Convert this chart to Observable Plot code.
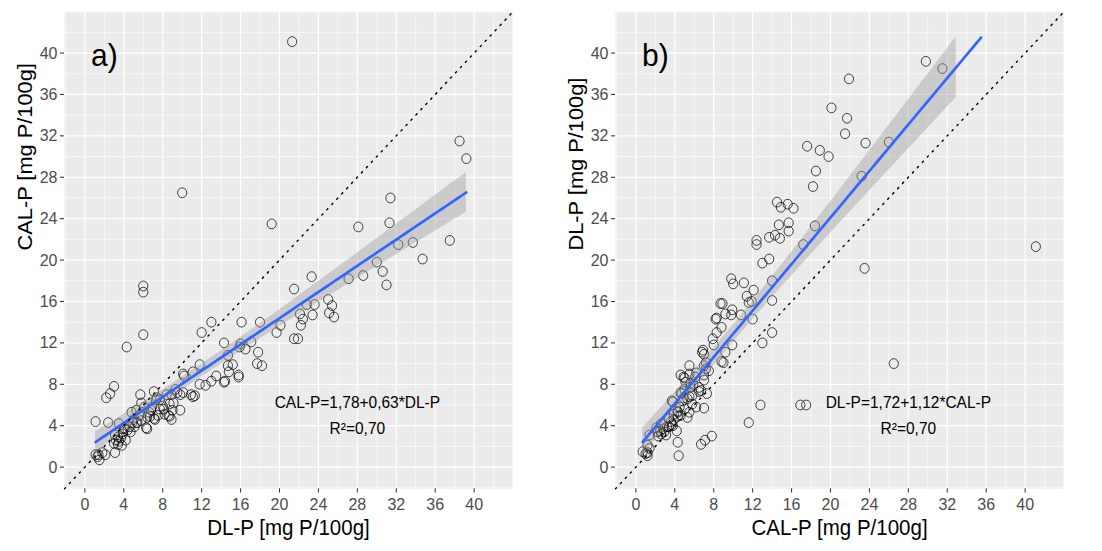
<!DOCTYPE html>
<html><head><meta charset="utf-8">
<script src="https://cdn.jsdelivr.net/npm/d3@7"></script>
<script src="https://cdn.jsdelivr.net/npm/@observablehq/plot@0.6"></script>
<style>
html,body{margin:0;padding:0;background:#fff;}
#wrap{display:flex;width:1102px;height:551px;overflow:hidden;}
#wrap svg{display:block;flex:none;}
</style></head><body><div id="wrap"></div>
<script>
// DL-P and CAL-P values per sample (mg P/100g), paired by index
const dlP = [21.3,10.0,19.2,38.5,39.2,31.4,28.1,31.3,32.2,33.7,37.5,34.7,30.0,30.6,28.6,31.0,27.1,23.3,21.5,25.6,
  25.4,25.1,25.0,23.4,23.6,22.8,22.4,22.2,22.1,21.9,21.5,20.1,19.7,18.2,18.0,17.7,17.8,17.1,16.5,16.1,
  15.9,16.0,15.8,15.8,15.2,14.8,14.7,14.7,14.3,14.3,14.4,13.5,13.0,13.0,12.0,12.4,11.8,11.8,11.1,11.1,
  11.3,10.2,10.1,10.1,9.8,9.1,8.9,8.7,8.4,8.1,8.7,8.9,8.6,10.9,9.3,9.0,8.2,7.2,7.7,7.4,
  7.1,6.3,6.6,6.8,6.1,5.8,5.7,5.3,5.0,5.6,4.8,5.3,3.9,4.0,3.5,3.5,3.4,3.4,3.1,2.4,
  2.2,2.6,3.0,1.1,1.5,1.4,1.8,1.1,2.1,3.1,4.3,6.0,6.0,6.0,3.2,3.7,3.9,4.4,4.6,3.0,
  5.4,5.8,6.4,6.4,7.1,7.5,7.7,6.9,4.9,4.1,5.1,4.7,6.7,7.3,8.0,9.5,3.8,4.2,1.3,9.8];
const calP = [41.1,26.5,23.5,31.5,29.8,26.0,23.2,23.6,21.5,21.7,21.9,20.1,19.8,18.9,18.5,17.6,18.2,18.4,17.2,14.5,
  15.6,14.9,16.2,14.7,15.7,15.7,14.3,13.7,14.8,12.4,12.4,13.7,13.0,9.8,14.0,10.0,11.1,12.1,11.4,14.0,
  11.6,11.9,8.7,8.9,9.9,9.2,9.8,10.8,12.0,8.2,8.3,8.8,14.0,8.3,13.0,7.9,8.0,9.9,9.2,6.8,
  6.9,8.8,9.0,7.2,5.5,6.2,7.0,6.1,7.0,5.6,4.9,4.6,5.0,7.0,7.5,5.5,5.1,4.6,6.5,6.7,
  7.3,3.8,5.3,5.5,5.8,6.2,7.0,4.3,4.6,5.0,5.3,5.5,3.4,3.8,4.2,2.5,2.2,2.9,3.1,4.3,
  6.7,7.1,7.8,4.4,0.7,1.2,1.4,1.2,1.2,1.4,11.6,12.8,16.9,17.5,2.6,2.8,3.2,3.6,3.9,2.3,
  4.3,4.5,3.7,4.8,4.7,5.0,5.6,5.8,4.3,3.7,3.9,3.4,4.9,6.5,5.9,7.2,2.1,2.6,1.0,7.0];

const axisLimits = [0, 41.85];
const majorTicks = [0, 4, 8, 12, 16, 20, 24, 28, 32, 36, 40];
const minorTicks = [-2, 2, 6, 10, 14, 18, 22, 26, 30, 34, 38, 42];
const panelTags = ["a)", "b)"];
const xTitles = ["DL-P [mg P/100g]", "CAL-P [mg P/100g]"];
const yTitles = ["CAL-P [mg P/100g]", "DL-P [mg P/100g]"];
const equations = ["CAL-P=1,78+0,63*DL-P", "DL-P=1,72+1,12*CAL-P"];
const r2Labels = ["R²=0,70", "R²=0,70"];
const tagPos = [2, 39.7];
const eqPos = [28, 6.2];
const r2Pos = [28, 3.7];

const rows = dlP.map((d, i) => ({dl: d, cal: calP[i]}));

function tQuantile975(df) {
  const z = 1.959964;
  return z + (z**3 + z) / (4*df) + (5*z**5 + 16*z**3 + 3*z) / (96*df*df)
    + (3*z**7 + 19*z**5 + 17*z**3 - 15*z) / (384*df**3);
}
function smooth(data, xk, yk) {
  const n = data.length;
  const xm = d3.mean(data, d => d[xk]), ym = d3.mean(data, d => d[yk]);
  let sxx = 0, sxy = 0;
  for (const d of data) { sxx += (d[xk]-xm)**2; sxy += (d[xk]-xm)*(d[yk]-ym); }
  const b = sxy / sxx, a = ym - b*xm;
  let sse = 0;
  for (const d of data) sse += (d[yk] - a - b*d[xk])**2;
  const s = Math.sqrt(sse / (n-2)), t = tQuantile975(n-2);
  const [x0, x1] = d3.extent(data, d => d[xk]);
  return d3.range(80).map(i => {
    const x = x0 + (x1-x0)*i/79, y = a + b*x;
    const se = s*Math.sqrt(1/n + (x-xm)**2/sxx);
    return {x, y, lo: y - t*se, hi: y + t*se};
  });
}

const W = 551, H0 = 518, H = 551;
function panel(k) {
  const xk = k === 0 ? "dl" : "cal", yk = k === 0 ? "cal" : "dl";
  const pad = 0.05*(axisLimits[1]-axisLimits[0]);
  const dom = [axisLimits[0]-pad, axisLimits[1]+pad];
  const fit = smooth(rows, xk, yk);
  const inLim = v => v >= axisLimits[0] && v <= axisLimits[1];
  const lineFit = fit.filter(p => inLim(p.y));
  const bandFit = fit.filter(p => inLim(p.lo) && inLim(p.hi));
  const svg = Plot.plot({
    width: W, height: H0,
    marginLeft: 64, marginRight: 39, marginTop: 11, marginBottom: 59,
    style: {fontFamily: "'Liberation Sans', Arial, sans-serif", background: "white", overflow: "visible"},
    x: {domain: dom, label: null},
    y: {domain: dom, label: null},
    marks: [
      Plot.frame({fill: "#EBEBEB", stroke: null}),
      Plot.gridX(minorTicks, {stroke: "white", strokeOpacity: 1, strokeWidth: 0.6}),
      Plot.gridY(minorTicks, {stroke: "white", strokeOpacity: 1, strokeWidth: 0.6}),
      Plot.gridX(majorTicks, {stroke: "white", strokeOpacity: 1, strokeWidth: 1.2}),
      Plot.gridY(majorTicks, {stroke: "white", strokeOpacity: 1, strokeWidth: 1.2}),
      Plot.axisX(majorTicks, {tickSize: 4, tickPadding: 5, fontSize: 16, stroke: "#333333", fill: "#4D4D4D", label: null}),
      Plot.axisY(majorTicks, {tickSize: 4, tickPadding: 3, fontSize: 16, stroke: "#333333", fill: "#4D4D4D", label: null}),
      Plot.dot(rows, {x: xk, y: yk, r: 4.6, stroke: "black", strokeWidth: 0.7, fill: "none"}),
      Plot.areaY(bandFit, {x: "x", y1: "lo", y2: "hi", fill: "#999999", fillOpacity: 0.4}),
      Plot.line(lineFit, {x: "x", y: "y", stroke: "#3366FF", strokeWidth: 2.6}),
      Plot.line(dom, {x: d => d, y: d => d, stroke: "black", strokeWidth: 1.4, strokeDasharray: "1.4,5.6"}),
      Plot.text([{x: tagPos[0], y: tagPos[1], t: panelTags[k]}], {x: "x", y: "y", text: "t", fontSize: 30, fill: "black"}),
      Plot.text([{x: eqPos[0], y: eqPos[1], t: equations[k]}], {x: "x", y: "y", text: "t", fontSize: 15.5, fill: "black"}),
      Plot.text([{x: r2Pos[0], y: r2Pos[1], t: r2Labels[k]}], {x: "x", y: "y", text: "t", fontSize: 15.5, fill: "black"}),
      Plot.text([xTitles[k]], {frameAnchor: "bottom", dy: 36.7, lineAnchor: "middle", fontSize: 20.5, fill: "black"}),
      Plot.text([yTitles[k]], {frameAnchor: "left", dx: -39, rotate: -90, lineAnchor: "middle", fontSize: 20.5, fill: "black"})
    ]
  });
  svg.setAttribute("width", W);
  svg.setAttribute("height", H);
  svg.setAttribute("viewBox", `0 0 ${W} ${H0}`);
  svg.setAttribute("preserveAspectRatio", "none");
  svg.style.width = W + "px";
  svg.style.height = H + "px";
  svg.style.maxWidth = "none";
  return svg;
}
const wrap = document.getElementById("wrap");
wrap.append(panel(0), panel(1));
</script></body></html>
